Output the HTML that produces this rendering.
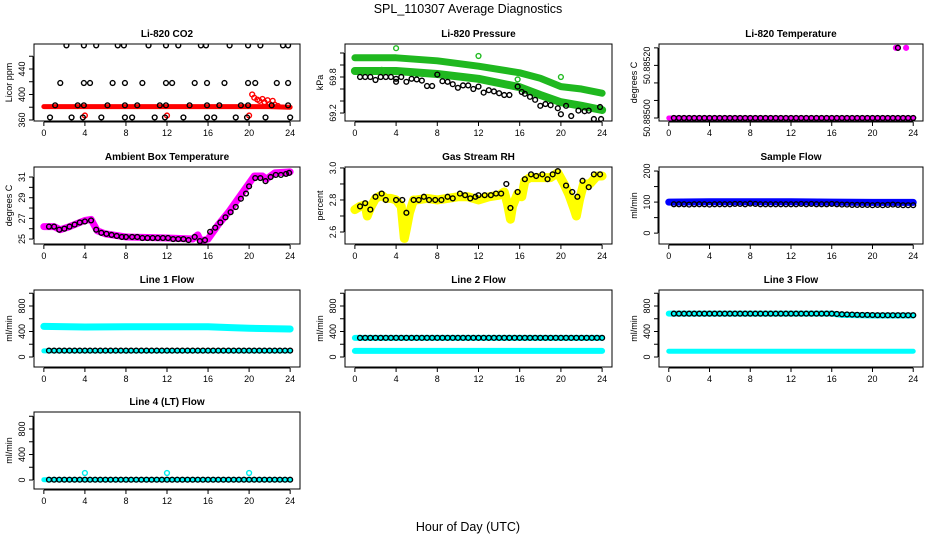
<!DOCTYPE html>
<html><head><meta charset="utf-8"><style>
html,body{margin:0;padding:0;background:#fff}
svg{display:block;font-family:"Liberation Sans",sans-serif}
</style></head><body>
<svg id="chart" width="936" height="540" viewBox="0 0 936 540">
<text x="468" y="13" font-size="12.5" text-anchor="middle">SPL_110307  Average Diagnostics</text>
<text x="468" y="531" font-size="12.5" text-anchor="middle">Hour of Day (UTC)</text>
</svg>
<script>
const hourTicks=[0,4,8,12,16,20,24];
const flowT=[0.5,1,1.5,2,2.5,3,3.5,4,4.5,5,5.5,6,6.5,7,7.5,8,8.5,9,9.5,10,10.5,11,11.5,12,12.5,13,13.5,14,14.5,15,15.5,16,16.5,17,17.5,18,18.5,19,19.5,20,20.5,21,21.5,22,22.5,23,23.5,24];
// CO2
const co2BlackT=[2.2,3.9,5.1,7.2,7.8,10.2,11.9,13.1,15.3,15.8,18.1,19.9,21.1,23.3,23.8, 1.6,3.9,4.5,6.7,7.9,9.6,11.9,12.5,14.7,15.9,17.6,19.9,20.6,22.7,23.8, 1.1,3.3,3.9,6.2,7.9,9.1,11.3,11.9,14.2,15.9,17.1,19.2,19.9,22.2,23.8, 0.6,2.7,3.8,5.6,7.9,8.6,10.8,11.8,13.6,15.9,16.6,18.7,19.8,21.6,24.0];
const co2BlackV=[477,477,477,477,477,477,477,477,477,477,477,477,477,477,477, 418,418,418,418,418,418,418,418,418,418,418,418,418,418,418, 383,383,383,383,383,383,383,383,383,383,383,383,383,383,383, 364,364,364,364,364,364,364,364,364,364,364,364,364,364,364];
const co2RedLineT=[0,4,8,12,16,20,22,24];
const co2RedLineV=[381,381,381,381,381,381,381,380];
const co2RedPtsT=[4,12,20,20.3,20.5,20.8,21,21.3,21.5,21.8,22,22.3,22.5,22.8];
const co2RedPtsV=[367,367,367,400,395,392,390,393,388,391,385,390,384,382];
// Pressure
const presUpT=[0,4,8,12,16,18,20,22,24];
const presUpV=[70.12,70.12,70.07,69.98,69.87,69.78,69.64,69.6,69.53];
const presLoT=[0,4,8,12,16,18,20,22,24];
const presLoV=[69.9,69.9,69.85,69.77,69.63,69.5,69.38,69.32,69.25];
const presOutT=[4,12,20,8,2.6,15.8];
const presOutV=[70.28,70.15,69.8,69.85,69.92,69.76];
const presBlkT=[0.5,1,1.5,2,2.5,3,3.5,4,4,4.5,5,5.5,6,6.5,7,7.5,8,8.5,9,9.5,10,10.5,11,11.5,12,12.5,13,13.5,14,14.5,15,15.8,16.2,16.5,17,17.5,18,18.5,19,19.7,20,20.5,21,21.7,22.3,22.7,23.2,23.8,23.9];
const presBlkV=[69.8,69.8,69.8,69.75,69.8,69.8,69.8,69.77,69.72,69.8,69.72,69.77,69.76,69.74,69.65,69.65,69.84,69.73,69.72,69.68,69.62,69.66,69.66,69.6,69.64,69.54,69.58,69.56,69.53,69.5,69.5,69.64,69.55,69.52,69.47,69.42,69.32,69.35,69.33,69.28,69.18,69.32,69.15,69.24,69.23,69.24,69.1,69.3,69.1];
// Temperature
const tempBandT=[0,24];
const tempBandV=[50.885,50.885];
const tempTopMagT=[22.3,22.5,23.3];
const tempTopMagV=[50.8852,50.8852,50.8852];
const tempTopBlkT=[22.5];
const tempTopBlkV=[50.8852];
// Ambient
const ambMagT=[0,1,1.6,2.5,4,4.6,5.2,6,8,12,14.5,15,15.3,16,17,18,19,20,20.5,21.3,21.7,22.5,24];
const ambMagV=[26.2,26.2,25.9,26.2,26.8,26.9,25.8,25.5,25.2,25.1,25.0,25.4,24.8,25.0,26.4,27.6,29.0,30.4,31.1,31.1,30.8,31.4,31.5];
const ambBlkT=[0.5,1,1.5,2,2.5,3,3.5,4,4.6,5.1,5.6,6.1,6.6,7.1,7.6,8,8.6,9.1,9.6,10.1,10.6,11.1,11.6,12.1,12.6,13.1,13.6,14.1,14.7,15.2,15.7,16.2,16.7,17.2,17.7,18.2,18.7,19.2,19.7,20,20.6,21.1,21.6,22.1,22.6,23.1,23.6,23.9];
const ambBlkV=[26.2,26.2,25.9,26.0,26.2,26.4,26.6,26.7,26.8,25.9,25.6,25.5,25.4,25.3,25.2,25.2,25.2,25.2,25.1,25.1,25.1,25.1,25.1,25.1,25.0,25.0,25.0,24.9,25.2,24.8,24.9,25.7,26.1,26.6,27.1,27.6,28.1,28.9,29.4,30.1,30.9,30.9,30.6,31.0,31.2,31.2,31.3,31.4];
// RH
const rhYelT=[0,0.5,1,1.2,1.5,2,2.6,3,3.5,4,4.5,4.8,5,5.3,5.7,6,7,8,9,10,11,12,13,14,14.5,14.8,15.1,15.3,15.8,16.2,16.5,17,18,19,19.7,20.3,20.8,21.3,21.5,21.8,22.2,22.8,23.5,24];
const rhYelV=[2.74,2.76,2.77,2.70,2.75,2.81,2.83,2.81,2.81,2.8,2.76,2.56,2.62,2.72,2.8,2.8,2.81,2.8,2.81,2.82,2.82,2.8,2.82,2.83,2.85,2.78,2.68,2.76,2.84,2.82,2.92,2.94,2.94,2.94,2.97,2.9,2.83,2.74,2.7,2.8,2.9,2.9,2.95,2.95];
const rhBlkT=[0.5,1,1.5,2,2.6,3,4,4.6,5,5.7,6.2,6.7,7.2,7.8,8.4,9,9.5,10.2,10.7,11.2,11.7,12,12.6,13.2,13.7,14.2,14.7,15.1,15.8,16.5,17.1,17.6,18.2,18.7,19.2,19.7,20.5,21.1,21.6,22.1,22.7,23.2,23.8];
const rhBlkV=[2.76,2.78,2.74,2.82,2.84,2.8,2.8,2.8,2.72,2.8,2.8,2.82,2.8,2.8,2.8,2.82,2.81,2.84,2.83,2.81,2.82,2.83,2.83,2.83,2.84,2.84,2.9,2.75,2.85,2.93,2.96,2.95,2.96,2.93,2.96,2.98,2.89,2.85,2.82,2.92,2.88,2.96,2.96];
// Sample flow
const sampBlueT=[0,4,8,12,16,20,24];
const sampBlueV=[100,101,101,101,100,99,99];
const sampBlkV=[93,93,93,92,93,93,93,92,93,93,93,93,94,94,93,95,94,93,93,93,93,93,93,93,93,94,93,94,93,93,93,94,93,92,92,91,91,91,91,90,91,90,91,92,91,90,90,90];
// Line flows
const l1CyanT=[0,4,8,12,16,18.2,20,24];
const l1CyanV=[480,470,475,475,475,460,450,440];
const l1LowT=[0,24];
const l1LowV=[95,95];
const l1BlkV=[100,100,100,100,100,100,100,100,100,100,100,100,100,100,100,100,100,100,100,100,100,100,100,100,100,100,100,100,100,100,100,100,100,100,100,100,100,100,100,100,100,100,100,100,100,100,100,100];
const l2CyanT=[0,24];
const l2CyanV=[300,300];
const l2LowT=[0,24];
const l2LowV=[95,95];
const l2BlkV=[300,300,300,300,300,300,300,300,300,300,300,300,300,300,300,300,300,300,300,300,300,300,300,300,300,300,300,300,300,300,300,300,300,300,300,300,300,300,300,300,300,300,300,300,300,300,300,300];
const l3CyanT=[0,4,8,12,16,17,20,24];
const l3CyanV=[680,680,680,680,680,660,650,650];
const l3LowT=[0,24];
const l3LowV=[90,90];
const l3BlkV=[680,680,680,680,680,680,680,680,680,680,680,680,680,680,680,680,680,680,680,680,680,680,680,680,680,680,680,680,680,680,680,680,675,670,668,665,662,660,660,658,656,655,655,655,655,655,655,655];
const l4CyanT=[0,24];
const l4CyanV=[5,5];
const l4OutT=[4,12,20];
const l4OutV=[110,110,110];
const l4BlkV=[5,5,5,5,5,5,5,5,5,5,5,5,5,5,5,5,5,5,5,5,5,5,5,5,5,5,5,5,5,5,5,5,5,5,5,5,5,5,5,5,5,5,5,5,5,5,5,5];

const NS="http://www.w3.org/2000/svg";
const svg=document.getElementById('chart');
const colL=[34,345,659], colW=[266,267,264], rowT=[44,167,290,412], rowH=77;
function mk(tag,attrs,parent){const e=document.createElementNS(NS,tag);for(const k in attrs)e.setAttribute(k,attrs[k]);parent.appendChild(e);return e;}

function panel(name,col,row,title,ylab,ylo,yhi,ticks,labels){
  const g=mk('g',{},svg);
  
  
  const L=colL[col],W=colW[col],T=rowT[row],H=rowH;
  const xs=h=>L+(h+0.96)/25.92*W;
  const ys=v=>T+H-(v-ylo)/(yhi-ylo)*H;
  const t=mk('text',{x:L+W/2,y:T-7,'font-size':10,'font-weight':'bold','text-anchor':'middle'},g);
  t.textContent=title;
  
  
  const yl=mk('text',{x:0,y:0,'font-size':9,'text-anchor':'middle',transform:`translate(${L-22},${T+H/2}) rotate(-90)`},g);
  yl.textContent=ylab;
  
  
  const ax=mk('g',{stroke:'#000','stroke-width':1},g);
  
  
  mk('line',{x1:xs(0),x2:xs(24),y1:T+H+1,y2:T+H+1},ax);
  hourTicks.forEach(h=>{
    mk('line',{x1:xs(h),x2:xs(h),y1:T+H+1,y2:T+H+5},ax);
    const tl=mk('text',{x:xs(h),y:T+H+15,'font-size':9,'text-anchor':'middle',stroke:'none'},g);
    tl.textContent=h;
    
    
  });
  mk('line',{x1:L-1,x2:L-1,y1:ys(ticks[0]),y2:ys(ticks[ticks.length-1])},ax);
  ticks.forEach((v,i)=>{
    mk('line',{x1:L-5,x2:L-1,y1:ys(v),y2:ys(v)},ax);
    if(labels[i]){
      const tl=mk('text',{x:0,y:0,'font-size':9,'text-anchor':'middle',transform:`translate(${L-9},${ys(v)}) rotate(-90)`},g);
      tl.textContent=labels[i];
      
      
    }
  });
  const data=mk('g',{},g);
  data.setAttribute('clip-path',`url(#clip${col}${row})`);
  const cp=mk('clipPath',{id:`clip${col}${row}`},svg);
  mk('rect',{x:L,y:T,width:W,height:H},cp);
  const box=mk('rect',{x:L,y:T,width:W,height:H,fill:'none',stroke:'#000','stroke-width':1},g);
  
  
  return {
    band(T_,V_,color,w,nm){
      const p=mk('polyline',{points:T_.map((h,i)=>xs(h)+','+ys(V_[i])).join(' '),fill:'none',stroke:color,'stroke-width':w,'stroke-linejoin':'round','stroke-linecap':'round'},data);
      
      
    },
    pts(T_,V_,color,nm,filled){
      T_.forEach((h,i)=>{
        const c=mk('circle',{cx:xs(h),cy:ys(V_[i]),r:2.4,fill:filled?color:'none',stroke:color,'stroke-width':1.4},data);
        
        
      });
    }
  };
}
const flowTicks=[0,200,400,600,800,1000], flowLabels=['0','','400','','800',''];
let p;
p=panel('co2',0,0,'Li-820 CO2','Licor ppm',358.4,479.2,[360,380,400,420,440,460],['360','','400','','440','']);
p.band(co2RedLineT,co2RedLineV,'#ff0000',5,'co2-red-series');
p.pts(co2RedPtsT,co2RedPtsV,'#ff0000','co2-red-point');
p.pts(co2BlackT,co2BlackV,'#000','co2-black-point');

p=panel('pressure',1,0,'Li-820 Pressure','kPa',69.067,70.35,[69.2,69.4,69.6,69.8,70.0,70.2],['69.2','','','69.8','','']);
p.band(presUpT,presUpV,'#1fb81f',7,'pressure-upper-band');
p.band(presLoT,presLoV,'#1fb81f',8,'pressure-lower-band');
p.pts(presOutT,presOutV,'#22bb22','pressure-green-point');
p.pts(presBlkT,presBlkV,'#000','pressure-black-point');

p=panel('temperature',2,0,'Li-820 Temperature','degrees C',50.8849914,50.885211,[50.885,50.88505,50.8851,50.88515,50.8852],['50.88500','','','50.88520','']);
p.band(tempBandT,tempBandV,'#ff00ff',5,'temperature-magenta-band');
p.pts(flowT,flowT.map(()=>50.885),'#000','temperature-black-point');
p.pts(tempTopMagT,tempTopMagV,'#ff00ff','temperature-magenta-point',true);
p.pts(tempTopBlkT,tempTopBlkV,'#000','temperature-black-point');

p=panel('ambient',0,1,'Ambient Box Temperature','degrees C',24.52,31.97,[25,26,27,28,29,30,31],['25','','27','','29','','31']);
p.band(ambMagT,ambMagV,'#ff00ff',7,'ambient-magenta-series');
p.pts(ambBlkT,ambBlkV,'#000','ambient-black-point');

p=panel('rh',1,1,'Gas Stream RH','percent',2.525,3.006,[2.6,2.7,2.8,2.9,3.0],['2.6','','2.8','','3.0']);
p.band(rhYelT,rhYelV,'#ffff00',9,'rh-yellow-series');
p.pts(rhBlkT,rhBlkV,'#000','rh-black-point');

p=panel('sample-flow',2,1,'Sample Flow','ml/min',-35,213,[0,50,100,150,200],['0','','100','','200']);
p.band(sampBlueT,sampBlueV,'#0000ff',7,'sample-blue-series');
p.pts(flowT,sampBlkV,'#000','sample-black-point');

p=panel('line1',0,2,'Line 1 Flow','ml/min',-157,1051,flowTicks,flowLabels);
p.band(l1CyanT,l1CyanV,'#00ffff',7,'line1-cyan-upper');
p.band(l1LowT,l1LowV,'#00ffff',5,'line1-cyan-lower');
p.pts(flowT,l1BlkV,'#000','line1-black-point');

p=panel('line2',1,2,'Line 2 Flow','ml/min',-157,1051,flowTicks,flowLabels);
p.band(l2CyanT,l2CyanV,'#00ffff',6,'line2-cyan-upper');
p.band(l2LowT,l2LowV,'#00ffff',6,'line2-cyan-lower');
p.pts(flowT,l2BlkV,'#000','line2-black-point');

p=panel('line3',2,2,'Line 3 Flow','ml/min',-157,1051,flowTicks,flowLabels);
p.band(l3CyanT,l3CyanV,'#00ffff',6,'line3-cyan-upper');
p.band(l3LowT,l3LowV,'#00ffff',5,'line3-cyan-lower');
p.pts(flowT,l3BlkV,'#000','line3-black-point');

p=panel('line4',0,3,'Line 4 (LT) Flow','ml/min',-141,1067,flowTicks,flowLabels);
p.band(l4CyanT,l4CyanV,'#00ffff',5,'line4-cyan-series');
p.pts(l4OutT,l4OutV,'#00eeee','line4-cyan-point');
p.pts(flowT,l4BlkV,'#000','line4-black-point');
</script>
</body></html>
